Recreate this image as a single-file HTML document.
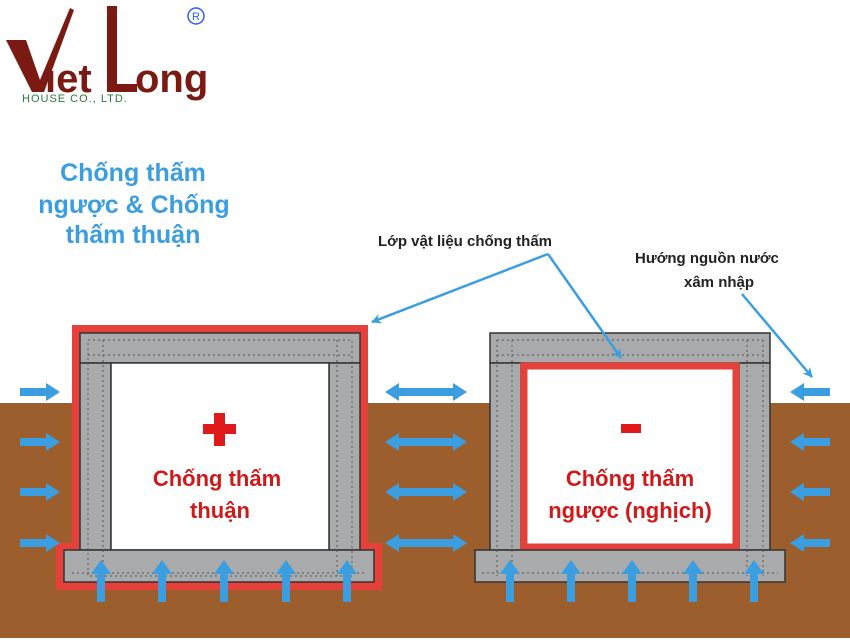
<!DOCTYPE html>
<html><head><meta charset="utf-8"><style>
body{margin:0;width:850px;height:638px;overflow:hidden;background:#fff;font-family:"Liberation Sans",sans-serif}
</style></head><body>
<svg width="850" height="638" xmlns="http://www.w3.org/2000/svg" font-family="Liberation Sans, DejaVu Sans, sans-serif">
<defs>
<marker id="ah" markerWidth="10" markerHeight="10" refX="9" refY="5" orient="auto" markerUnits="userSpaceOnUse"><path d="M0,0 L10,5 L0,10 L3,5 Z" fill="#3a9ee0"/></marker>
<g id="ar"><path d="M0,-4 H26 V-9 L40,0 L26,9 V4 H0 Z" fill="#3a9ee0"/></g>
<g id="da"><path d="M0,0 L14,-9 V-4 H68 V-9 L82,0 L68,9 V4 H14 V9 Z" fill="#3a9ee0"/></g>
<g id="up"><path d="M-4,42 V14 H-10 L0,0 L10,14 H4 V42 Z" fill="#3a9ee0"/></g>
</defs>
<!-- logo -->
<path d="M6,40 L26,40 L40,80 L70,8 L74,10 L44,92 L32,92 Z" fill="#7a1a12"/>
<text x="45" y="92" font-size="40" font-weight="bold" fill="#7a1a12">iet</text>
<rect x="107" y="6" width="10" height="86" fill="#7a1a12"/>
<rect x="107" y="84" width="30" height="8" fill="#7a1a12"/>
<text x="135" y="92" font-size="40" font-weight="bold" fill="#7a1a12">ong</text>
<text x="22" y="102" font-size="11" fill="#2a7a3a" letter-spacing="1">HOUSE CO., LTD.</text>
<circle cx="196" cy="16" r="8" fill="none" stroke="#2a5cff" stroke-width="1.5"/>
<text x="196" y="20" font-size="11" fill="#2a5cff" text-anchor="middle">R</text>
<!-- title -->
<g font-size="25" font-weight="bold" fill="#3a9ee0" text-anchor="middle">
<text x="133" y="181">Chống thấm</text>
<text x="134" y="213">ngược &amp; Chống</text>
<text x="133" y="243">thấm thuận</text>
</g>
<!-- ground -->
<rect x="0" y="403" width="850" height="235" fill="#9b5e2c"/>
<!-- left box -->
<path d="M72,325 H368 V543 H382 V590 H56 V543 H72 Z" fill="#e5403a"/>
<rect x="80" y="333" width="280" height="30" fill="#a9aaac" stroke="#333" stroke-width="1.5"/>
<rect x="80" y="363" width="31" height="187" fill="#a9aaac" stroke="#333" stroke-width="1.5"/>
<rect x="329" y="363" width="31" height="187" fill="#a9aaac" stroke="#333" stroke-width="1.5"/>
<rect x="111" y="363" width="218" height="187" fill="#fff" stroke="#333" stroke-width="1.5"/>
<rect x="64" y="550" width="310" height="32" fill="#a9aaac" stroke="#333" stroke-width="1.5"/>
<!-- right box -->
<rect x="490" y="333" width="280" height="30" fill="#a9aaac" stroke="#333" stroke-width="1.5"/>
<rect x="490" y="363" width="31" height="187" fill="#a9aaac" stroke="#333" stroke-width="1.5"/>
<rect x="739" y="363" width="31" height="187" fill="#a9aaac" stroke="#333" stroke-width="1.5"/>
<rect x="524" y="366" width="212" height="181" fill="#fff" stroke="#e5403a" stroke-width="7"/>
<rect x="475" y="550" width="310" height="32" fill="#a9aaac" stroke="#333" stroke-width="1.5"/>
<g fill="none" stroke="#555" stroke-width="1" stroke-dasharray="2,3">
<rect x="88" y="340" width="264" height="236"/><line x1="88" y1="355" x2="352" y2="355"/><line x1="103" y1="340" x2="103" y2="576"/><line x1="337" y1="340" x2="337" y2="576"/>
<line x1="72" y1="573" x2="366" y2="573"/>
<line x1="497" y1="340" x2="763" y2="340"/><line x1="497" y1="355" x2="763" y2="355"/>
<line x1="497" y1="340" x2="497" y2="576"/><line x1="512" y1="340" x2="512" y2="576"/><line x1="747" y1="340" x2="747" y2="576"/><line x1="763" y1="340" x2="763" y2="576"/><line x1="482" y1="573" x2="778" y2="573"/>
</g>
<rect x="203" y="424" width="33" height="10" fill="#e01a1a"/><rect x="214" y="413" width="11" height="33" fill="#e01a1a"/>
<rect x="621" y="424" width="20" height="9" fill="#e01a1a"/>
<g font-size="22" font-weight="bold" fill="#d01a1a" text-anchor="middle">
<text x="217" y="486">Chống thấm</text><text x="220" y="518">thuận</text>
<text x="630" y="486">Chống thấm</text><text x="630" y="518">ngược (nghịch)</text>
</g>
<!-- arrows -->
<g>
<use href="#ar" x="20" y="392"/><use href="#ar" x="20" y="442"/><use href="#ar" x="20" y="492"/><use href="#ar" x="20" y="543"/>
<use href="#da" x="385" y="392"/><use href="#da" x="385" y="442"/><use href="#da" x="385" y="492"/><use href="#da" x="385" y="543"/>
<use href="#ar" transform="translate(830,392) scale(-1,1)"/><use href="#ar" transform="translate(830,442) scale(-1,1)"/><use href="#ar" transform="translate(830,492) scale(-1,1)"/><use href="#ar" transform="translate(830,543) scale(-1,1)"/>
<use href="#up" x="101" y="560"/><use href="#up" x="162" y="560"/><use href="#up" x="224" y="560"/><use href="#up" x="286" y="560"/><use href="#up" x="347" y="560"/>
<use href="#up" x="510" y="560"/><use href="#up" x="571" y="560"/><use href="#up" x="632" y="560"/><use href="#up" x="693" y="560"/><use href="#up" x="754" y="560"/>
</g>
<!-- labels -->
<g font-size="15" font-weight="bold" fill="#222">
<text x="378" y="246">Lớp vật liệu chống thấm</text>
<text x="635" y="263">Hướng nguồn nước</text>
<text x="684" y="287">xâm nhập</text>
</g>
<g stroke="#3a9ee0" stroke-width="2.5" fill="none" marker-end="url(#ah)">
<line x1="548" y1="254" x2="372" y2="322"/>
<line x1="548" y1="254" x2="621" y2="358"/>
<line x1="742" y1="294" x2="812" y2="377"/>
</g>
</svg>
</body></html>
